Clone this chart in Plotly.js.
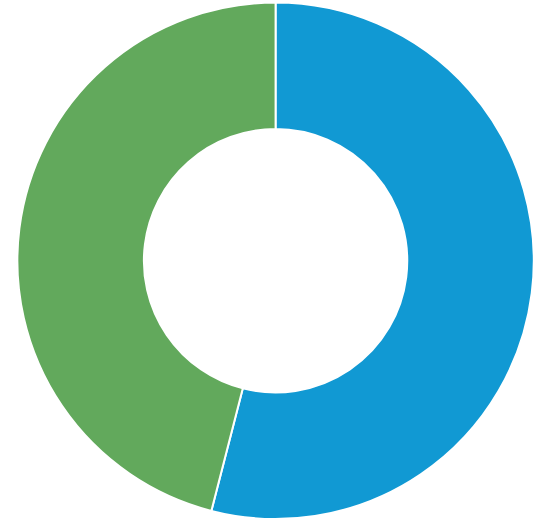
<!DOCTYPE html>
<html>
<head>
<meta charset="utf-8">
<script src="https://cdn.plot.ly/plotly-3.0.1.min.js"></script>
<style>html,body{margin:0;padding:0;background:#fff;}#chart{width:543px;height:519px;}</style>
</head>
<body>
<div id="chart"></div>
<script>
const labels = ["A", "B"];
const values = [54, 46];
const colors = ["#1199d3", "#62a95c"];

Plotly.newPlot("chart", [{
  type: "pie",
  labels: labels,
  values: values,
  hole: 0.51,
  sort: false,
  direction: "clockwise",
  rotation: 0,
  textinfo: "none",
  hoverinfo: "none",
  marker: {colors: colors, line: {color: "#ffffff", width: 2}},
  domain: {x: [0.025, 0.99], y: [0, 0.995]}
}], {
  width: 543, height: 519,
  margin: {l: 0, r: 0, t: 0, b: 0},
  showlegend: false,
  paper_bgcolor: "#ffffff"
}, {displayModeBar: false, staticPlot: true});
</script>
</body>
</html>
